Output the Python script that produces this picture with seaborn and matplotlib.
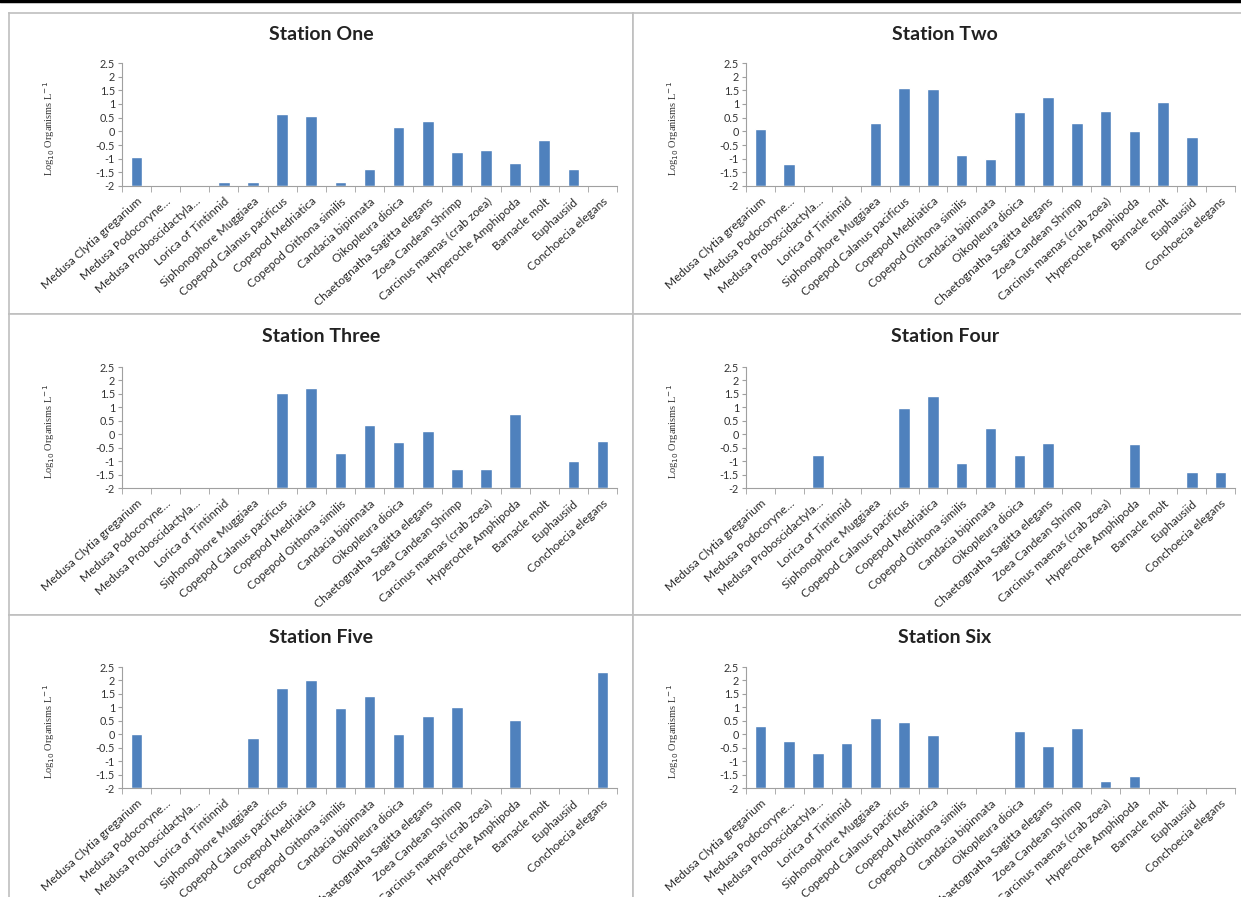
import numpy as np
import pandas as pd
import matplotlib
matplotlib.use("Agg")
import matplotlib.pyplot as plt
import seaborn as sns
from matplotlib.lines import Line2D

nan = np.nan

categories = [
    "Medusa Clytia gregarium", "Medusa Podocoryne…", "Medusa Proboscidactyla…",
    "Lorica of Tintinnid", "Siphonophore Muggiaea", "Copepod Calanus pacificus",
    "Copepod Medriatica", "Copepod Oithona similis", "Candacia bipinnata",
    "Oikopleura dioica", "Chaetognatha Sagitta elegans", "Zoea Candean Shrimp",
    "Carcinus maenas (crab zoea)", "Hyperoche Amphipoda", "Barnacle molt",
    "Euphausiid", "Conchoecia elegans",
]

station_one = [-0.93, nan, nan, -1.84, -1.85, 0.64, 0.56, -1.84, -1.38, 0.15, 0.39,
               -0.74, -0.70, -1.15, -0.33, -1.38, nan]
station_two = [0.07, -1.18, nan, nan, 0.32, 1.58, 1.55, -0.88, -1.0, 0.71, 1.27,
               0.32, 0.75, 0.0, 1.08, -0.22, nan]
station_three = [nan, nan, nan, nan, nan, 1.55, 1.72, -0.69, 0.35, -0.29, 0.12,
                 -1.31, -1.31, 0.75, nan, -1.0, -0.26]
station_four = [nan, nan, -0.76, nan, nan, 0.96, 1.43, -1.06, 0.23, -0.76, -0.32,
                nan, nan, -0.38, nan, -1.39, -1.39]
station_five = [0.0, nan, nan, nan, -0.14, 1.71, 2.0, 0.96, 1.44, 0.01, 0.66,
                1.03, nan, 0.53, nan, nan, 2.31]
station_six = [0.31, -0.27, -0.71, -0.32, 0.6, 0.45, -0.04, nan, nan, 0.12, -0.45,
               0.23, -1.73, -1.54, nan, nan, nan]

titles = ["Station One", "Station Two", "Station Three",
          "Station Four", "Station Five", "Station Six"]
series = [station_one, station_two, station_three,
          station_four, station_five, station_six]

yticks = [-2, -1.5, -1, -0.5, 0, 0.5, 1, 1.5, 2, 2.5]
ytick_labels = ["-2", "-1.5", "-1", "-0.5", "0", "0.5", "1", "1.5", "2", "2.5"]

sns.set_style("white")
plt.rcParams["font.family"] = ["Lato", "DejaVu Sans"]
plt.rcParams["axes.unicode_minus"] = False

W, H = 1241, 897
fig = plt.figure(figsize=(W / 100, H / 100), dpi=100)

def fx(px):
    return px / W

def fy(py):
    return 1 - py / H

BAR = "#4F81BD"
GRID = "#BFBFBF"

col_px = [(9, 633), (633, 1245)]
row_px = [(13, 314), (314, 615), (615, 905)]
ax_col = [(122, 617), (746, 1235)]
ax_row = [(63, 186), (367, 488), (667, 788)]
title_x = [321, 945]
ylab_x = [49, 673]

for i, (title, vals) in enumerate(zip(titles, series)):
    r, c = divmod(i, 2)
    x0, x1 = col_px[c]
    y0, y1 = row_px[r]
    frame = fig.add_axes([fx(x0), fy(y1), fx(x1 - x0), (y1 - y0) / H])
    frame.set_facecolor("white")
    frame.set_xticks([])
    frame.set_yticks([])
    for s in frame.spines.values():
        s.set_color(GRID)
        s.set_linewidth(1.2)

    ax0, ax1 = ax_col[c]
    ay0, ay1 = ax_row[r]
    ax = fig.add_axes([fx(ax0), fy(ay1), fx(ax1 - ax0), (ay1 - ay0) / H])
    ax.patch.set_alpha(0)
    df = pd.DataFrame({"category": categories, "value": vals})
    sns.barplot(data=df, x="category", y="value", order=categories, color=BAR,
                saturation=1, width=0.4, errorbar=None, ax=ax)
    for p in ax.patches:
        top = p.get_y() + p.get_height()
        p.set_y(-2)
        p.set_height(top + 2)
    ax.set_ylim(-2, 2.5)
    ax.set_xlim(-0.5, len(categories) - 0.5)
    ax.set_yticks(yticks)
    ax.set_yticklabels(ytick_labels, fontsize=7.8, color="#333333")
    ax.set_xticks(range(len(categories)))
    ax.set_xticklabels(categories, rotation=42, ha="right", rotation_mode="anchor",
                       fontsize=8.6, color="#2a2a2a")
    ax.set_xticks(np.arange(-0.5, len(categories), 1), minor=True)
    ax.tick_params(axis="x", which="major", length=0, pad=7)
    ax.tick_params(axis="x", which="minor", length=4, color="#A0A0A0",
                   direction="out", bottom=True)
    ax.tick_params(axis="y", length=3, color="#A0A0A0", direction="out", left=True,
                   pad=2)
    ax.set_xlabel("")
    ax.set_ylabel("")
    for s in ["top", "right"]:
        ax.spines[s].set_visible(False)
    ax.spines["left"].set_color("#A0A0A0")
    ax.spines["bottom"].set_color("#A0A0A0")
    ax.spines["left"].set_linewidth(0.8)
    ax.spines["bottom"].set_linewidth(0.8)

    fig.text(fx(title_x[c]), fy(y0 + 22), title, ha="center", va="center",
             fontsize=14, fontweight="bold", color="#222222")
    fig.text(fx(ylab_x[c]), fy((ay0 + ay1) / 2 + 4),
             r"Log$_{10}$ Organisms L$^{-1}$", rotation=90, ha="center",
             va="center", fontsize=7.5, family=["Liberation Serif"], color="#333333")

fig.add_artist(Line2D([0, 1], [fy(1.5), fy(1.5)], color="black", lw=2.5,
                      transform=fig.transFigure))

fig.savefig("out.png", dpi=100)
